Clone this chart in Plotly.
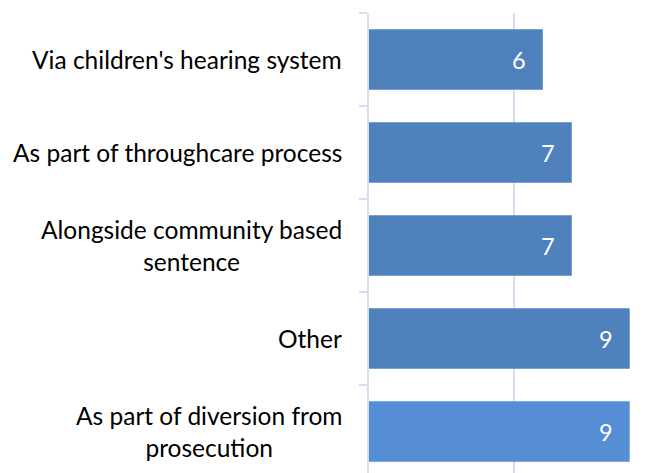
import plotly.graph_objects as go

categories = [
    "As part of diversion from\nprosecution",
    "Other",
    "Alongside community based\nsentence",
    "As part of throughcare process",
    "Via children's hearing system",
]
values = [9, 9, 7, 7, 6]
bar_colors = ["#558ED5", "#4F81BD", "#4F81BD", "#4F81BD", "#4F81BD"]

FONT = "Lato"
LABEL_SIZE = 24.5
VALUE_SIZE = 23.5
GRID = "#D3DEEF"

fig = go.Figure(go.Bar(
    y=list(range(len(categories))),
    x=values,
    orientation="h",
    marker=dict(color=bar_colors, line=dict(width=0)),
    width=0.65,
    hoverinfo="skip",
))

label_ann = []
value_ann = []
for i, (cat, v) in enumerate(zip(categories, values)):
    label_ann.append(dict(
        x=0, xref="paper", y=i, yref="y", text="<br>".join(cat.split("\n")),
        showarrow=False, xanchor="right", xshift=-25, align="center",
        font=dict(family=FONT, size=LABEL_SIZE, color="#000000"),
    ))
    value_ann.append(dict(
        x=v, xref="x", y=i, yref="y", text=str(v), showarrow=False,
        xanchor="right", xshift=-15,
        font=dict(family=FONT, size=VALUE_SIZE, color="#FFFFFF"),
    ))

fig.update_layout(
    width=650, height=473,
    margin=dict(l=369, r=0, t=13, b=0),
    paper_bgcolor="white", plot_bgcolor="white",
    showlegend=False,
    xaxis=dict(
        range=[0, 9.7], dtick=5, tick0=0,
        showgrid=True, gridcolor=GRID, gridwidth=1.5,
        showticklabels=False, zeroline=False, showline=False, ticks="",
    ),
    yaxis=dict(
        range=[-0.446, 4.5],
        tickvals=[-0.5, 0.5, 1.5, 2.5, 3.5, 4.5],
        showticklabels=False,
        ticks="outside", ticklen=8, tickcolor=GRID, tickwidth=1.5,
        showline=True, linecolor=GRID, linewidth=1.5,
        showgrid=False, zeroline=False,
    ),
    annotations=label_ann + value_ann,
)

fig.write_html(
    "out.html",
    config={"displayModeBar": False},
    post_script="document.body.style.margin='0';document.body.style.overflow='hidden';",
)
